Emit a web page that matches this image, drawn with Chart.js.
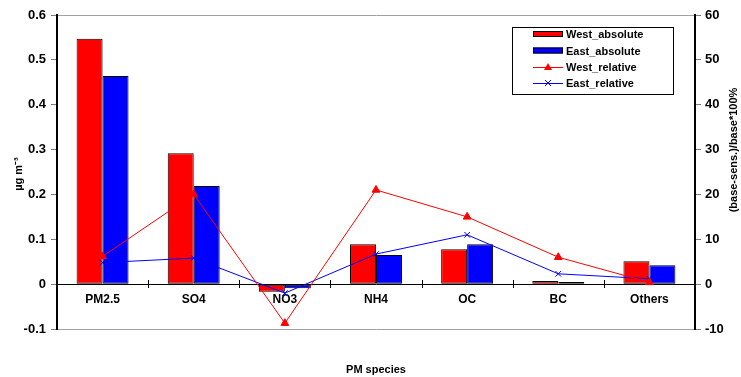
<!DOCTYPE html>
<html><head><meta charset="utf-8">
<script src="https://cdn.jsdelivr.net/npm/chart.js@4"></script>
<style>html,body{margin:0;padding:0;background:#fff}#wrap{width:741px;height:377px}</style>
</head><body><div id="wrap"><canvas id="c" width="741" height="377"></canvas></div>
<script>
const categories = ['PM2.5','SO4','NO3','NH4','OC','BC','Others'];
const westAbsolute = [0.547, 0.292, -0.017, 0.089, 0.078, 0.007, 0.051];
const eastAbsolute = [0.464, 0.219, -0.009, 0.065, 0.089, 0.005, 0.042];
const westRelative = [6.2, 20.0, -8.7, 21.0, 15.0, 6.0, 0.4];
const eastRelative = [4.8, 5.8, -2.0, 6.7, 11.0, 2.3, 1.2];
const leftTicks = [-0.1, 0, 0.1, 0.2, 0.3, 0.4, 0.5, 0.6];
const rightTicks = [-10, 0, 10, 20, 30, 40, 50, 60];

const FONT = '"Liberation Sans", Arial, sans-serif';

const extras = {
  id: 'extras',
  afterDraw(chart) {
    const ctx = chart.ctx, ca = chart.chartArea;
    ctx.save();
    ctx.fillStyle = '#000';
    ctx.font = 'bold 11px ' + FONT;
    ctx.textAlign = 'center'; ctx.textBaseline = 'middle';
    // x title
    ctx.fillText('PM species', (ca.left + ca.right) / 2, 370);
    // left title
    ctx.save();
    ctx.translate(19, 174);
    ctx.rotate(-Math.PI / 2);
    ctx.fillText('µg m⁻³', 0, 0);
    ctx.restore();
    // right title
    ctx.save();
    ctx.translate(734, 150);
    ctx.rotate(-Math.PI / 2);
    ctx.fillText('(base-sens.)/base*100%', 0, 0);
    ctx.restore();
    // x-axis tick marks crossing the zero line
    const xs = chart.scales.x, ys = chart.scales.y;
    const y0 = Math.round(ys.getPixelForValue(0));
    ctx.strokeStyle = '#000'; ctx.lineWidth = 1;
    for (let i = 0; i <= categories.length; i++) {
      const px = Math.round(xs.left + (xs.right - xs.left) * i / categories.length) + 0.5;
      ctx.beginPath(); ctx.moveTo(px, y0 - 4); ctx.lineTo(px, y0 + 4); ctx.stroke();
    }
    // legend
    const bx = 512, by = 27, bw = 161, bh = 67;
    ctx.fillStyle = '#fff';
    ctx.fillRect(bx, by, bw, bh);
    ctx.strokeStyle = '#000'; ctx.lineWidth = 1;
    ctx.strokeRect(bx + 0.5, by + 0.5, bw, bh);
    const items = [
      {t: 'West_absolute', k: 'bar', c: '#ff0000'},
      {t: 'East_absolute', k: 'bar', c: '#0000ff'},
      {t: 'West_relative', k: 'tri', c: '#ff0000'},
      {t: 'East_relative', k: 'x', c: '#0000ff'}
    ];
    const rows = [34, 50.5, 67, 83];
    ctx.font = 'bold 11px ' + FONT;
    ctx.textAlign = 'left';
    items.forEach((it, i) => {
      const y = rows[i];
      if (it.k === 'bar') {
        ctx.fillStyle = it.c;
        ctx.fillRect(533, y - 3, 30, 6);
        ctx.strokeStyle = '#000';
        ctx.strokeRect(533.5, y - 2.5, 29, 5);
      } else {
        ctx.strokeStyle = it.c; ctx.lineWidth = 1;
        ctx.beginPath(); ctx.moveTo(533, y + 0.5); ctx.lineTo(563, y + 0.5); ctx.stroke();
        if (it.k === 'tri') {
          ctx.fillStyle = it.c;
          ctx.beginPath(); ctx.moveTo(548, y - 4); ctx.lineTo(552, y + 3); ctx.lineTo(544, y + 3); ctx.closePath(); ctx.fill();
        } else {
          ctx.beginPath();
          ctx.moveTo(545, y - 3); ctx.lineTo(551, y + 3);
          ctx.moveTo(551, y - 3); ctx.lineTo(545, y + 3);
          ctx.stroke();
        }
      }
      ctx.fillStyle = '#000';
      ctx.fillText(it.t, 566, y + 1);
    });
    ctx.restore();
  }
};

new Chart(document.getElementById('c'), {
  type: 'bar',
  data: {
    labels: categories,
    datasets: [
      {label: 'West_absolute', data: westAbsolute, backgroundColor: '#ff0000', borderColor: '#000', borderWidth: 1, yAxisID: 'y', order: 2, borderSkipped: false},
      {label: 'East_absolute', data: eastAbsolute, backgroundColor: '#0000ff', borderColor: '#000', borderWidth: 1, yAxisID: 'y', order: 2, borderSkipped: false},
      {label: 'West_relative', type: 'line', data: westRelative, borderColor: '#ff0000', backgroundColor: '#ff0000', borderWidth: 1, pointStyle: 'triangle', pointRadius: 4.5, pointBorderWidth: 1, yAxisID: 'y1', order: 0, tension: 0},
      {label: 'East_relative', type: 'line', data: eastRelative, borderColor: '#0000ff', backgroundColor: '#0000ff', borderWidth: 1, pointStyle: 'crossRot', pointRadius: 4, pointBorderWidth: 1, yAxisID: 'y1', order: 1, tension: 0}
    ]
  },
  options: {
    responsive: false,
    animation: false,
    devicePixelRatio: 1,
    layout: {padding: {top: 15, bottom: 48, left: 0, right: 0}},
    plugins: {legend: {display: false}, tooltip: {enabled: false}, title: {display: false}},
    datasets: {bar: {categoryPercentage: 0.57, barPercentage: 1}},
    scales: {
      x: {
        position: {y: 0},
        offset: true,
        grid: {offset: true, drawOnChartArea: false, drawTicks: false, color: '#000', tickLength: 5},
        border: {color: '#000', width: 1},
        ticks: {color: '#000', font: {family: FONT, weight: 'bold', size: 12}, padding: 8}
      },
      y: {
        position: 'left',
        min: -0.1, max: 0.6,
        afterBuildTicks: (s) => { s.ticks = leftTicks.map(v => ({value: v})); },
        afterFit: (s) => { s.width = 57; },
        grid: {
          color: (c) => (Math.abs(c.tick.value - 0.6) < 1e-9 || Math.abs(c.tick.value + 0.1) < 1e-9) ? '#a0a0a0' : 'rgba(0,0,0,0)',
          tickColor: '#808080', tickLength: 6, lineWidth: 1
        },
        border: {color: '#000', width: 2},
        ticks: {
          color: '#000', font: {family: FONT, weight: 'bold', size: 13}, padding: 5,
          callback: (v) => String(Math.round(v * 10) / 10)
        },
        title: {display: false}
      },
      y1: {
        position: 'right',
        min: -10, max: 60,
        afterBuildTicks: (s) => { s.ticks = rightTicks.map(v => ({value: v})); },
        afterFit: (s) => { s.width = 46; },
        grid: {drawOnChartArea: false, tickColor: '#808080', tickLength: 6},
        border: {color: '#000', width: 2},
        ticks: {color: '#000', font: {family: FONT, weight: 'bold', size: 13}, padding: 4}
      }
    }
  },
  plugins: [extras]
});
</script></body></html>
